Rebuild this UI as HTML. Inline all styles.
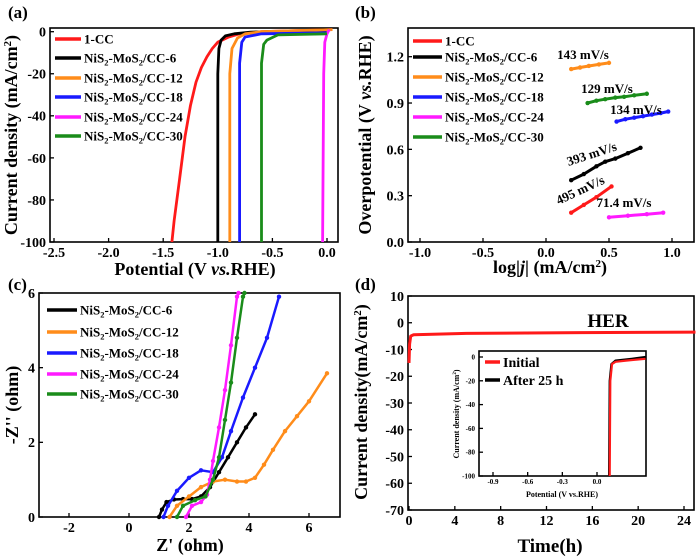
<!DOCTYPE html>
<html><head><meta charset="utf-8"><style>
html,body{margin:0;padding:0;background:#fff;}
svg{display:block;font-family:"Liberation Serif",serif;font-weight:bold;}
</style></head><body>
<svg id="fig" width="700" height="559" viewBox="0 0 700 559" xmlns="http://www.w3.org/2000/svg"></svg>
<script>
// ---------- Panel (a) data: LSV ----------
const aSeriesNames = ["1-CC","NiS2-MoS2/CC-6","NiS2-MoS2/CC-12","NiS2-MoS2/CC-18","NiS2-MoS2/CC-24","NiS2-MoS2/CC-30"];
const aColors = ["#ff1a1a","#000000","#ff8c1a","#1a1aff","#ff1aff","#1a8c1a"];
const aCC = [[0.05,1],[-0.6,0],[-0.8,-1],[-0.9,-2.5],[-1.0,-5],[-1.05,-8],[-1.1,-12],[-1.15,-17],[-1.2,-24],[-1.25,-35],[-1.3,-50],[-1.35,-70],[-1.4,-90],[-1.42,-100]];
const aCC6 = [[0,0.5],[-0.7,-0.2],[-0.85,-1],[-0.93,-2],[-0.97,-4],[-0.99,-8],[-1.0,-20],[-1.0,-100]];
const aCC12 = [[0.05,1],[-0.6,0],[-0.75,-1],[-0.82,-3],[-0.87,-8],[-0.89,-20],[-0.89,-100]];
const aCC18 = [[0,-0.5],[-0.6,-1],[-0.75,-2.5],[-0.78,-5],[-0.8,-15],[-0.8,-100]];
const aCC24 = [[0.02,1],[0,-1],[-0.02,-5],[-0.03,-20],[-0.04,-100]];
const aCC30 = [[0,-1],[-0.45,-1.5],[-0.55,-4],[-0.58,-6],[-0.6,-15],[-0.6,-100]];
const aXTicks = [-2.5,-2.0,-1.5,-1.0,-0.5,0.0];
const aYTicks = [0,-20,-40,-60,-80,-100];

// ---------- Panel (b) data: Tafel ----------
const bOrange = [[0.2,1.12],[0.27,1.13],[0.34,1.14],[0.42,1.15],[0.5,1.16]];
const bGreen = [[0.33,0.90],[0.4,0.915],[0.47,0.925],[0.55,0.935],[0.62,0.94],[0.7,0.95],[0.8,0.96]];
const bBlue = [[0.56,0.78],[0.63,0.795],[0.7,0.805],[0.77,0.815],[0.84,0.825],[0.91,0.835],[0.97,0.845]];
const bBlack = [[0.2,0.40],[0.3,0.44],[0.4,0.49],[0.47,0.52],[0.55,0.54],[0.65,0.575],[0.75,0.61]];
const bRed = [[0.2,0.19],[0.3,0.24],[0.4,0.29],[0.52,0.36]];
const bMagenta = [[0.5,0.16],[0.65,0.17],[0.8,0.18],[0.93,0.19]];
const bSlopes = ["143 mV/s","129 mV/s","134 mV/s","393 mV/s","495 mV/s","71.4 mV/s"];
const bXTicks = [-1.0,-0.5,0.0,0.5,1.0];
const bYTicks = [0.0,0.3,0.6,0.9,1.2];

// ---------- Panel (c) data: Nyquist ----------
const c6 = [[1.0,0],[1.1,0.2],[1.25,0.4],[1.5,0.47],[1.8,0.48],[2.1,0.48],[2.4,0.55],[2.7,0.8],[3.0,1.2],[3.3,1.6],[3.6,2.0],[3.9,2.4],[4.2,2.75]];
const c12 = [[1.35,0],[1.6,0.3],[2.0,0.55],[2.4,0.8],[2.8,0.95],[3.2,1.0],[3.6,0.95],[3.9,0.95],[4.2,1.05],[4.5,1.4],[4.8,1.8],[5.2,2.3],[5.6,2.7],[6.0,3.1],[6.6,3.85]];
const c18 = [[1.15,0],[1.3,0.3],[1.6,0.7],[2.0,1.05],[2.4,1.25],[2.8,1.2],[3.1,1.6],[3.4,2.3],[3.8,3.2],[4.2,4.0],[4.6,4.8],[5.0,5.9]];
const c24 = [[1.9,0],[2.1,0.3],[2.4,0.4],[2.6,0.6],[2.7,1.0],[2.8,1.5],[3.0,2.4],[3.2,3.4],[3.4,4.6],[3.6,5.9],[3.65,6]];
const c30 = [[1.6,0],[1.8,0.3],[2.2,0.45],[2.55,0.55],[2.8,1.0],[3.0,1.6],[3.2,2.6],[3.4,3.6],[3.6,4.8],[3.8,5.9],[3.85,6]];
const cXTicks = [-2,0,2,4,6];
const cYTicks = [0,2,4,6];

// ---------- Panel (d) data: stability ----------
const dLine = [[0,-15],[0.05,-8],[0.15,-5],[0.4,-4.5],[5,-4],[15,-3.7],[25,-3.5]];
const dXTicks = [0,4,8,12,16,20,24];
const dYTicks = [10,0,-10,-20,-30,-40,-50,-60,-70];
const insRed = [[0.11,-100],[0.115,-20],[0.13,-6],[0.16,-4],[0.25,-3],[0.42,-1.5]];
const insBlack = [[0.105,-100],[0.11,-20],[0.125,-6],[0.16,-3],[0.3,-1.5],[0.42,0]];
const insXTicks = [-0.9,-0.6,-0.3,0.0];
const insYTicks = [0,-20,-40,-60,-80,-100];

const NS="http://www.w3.org/2000/svg";
const svg=document.getElementById('fig');
function mk(tag,attrs,parent){const e=document.createElementNS(NS,tag);for(const k in attrs)e.setAttribute(k,attrs[k]);(parent||svg).appendChild(e);return e;}
function lin(d0,d1,r0,r1){return v=>r0+(v-d0)*(r1-r0)/(d1-d0);}
function txt(s,x,y,size,anchor,parent,name){const t=mk('text',{x:x,y:y,'font-size':size,'text-anchor':anchor||'middle'},parent);t.textContent=s;

return t;}
function axes(box,xs,ys,xt,yt,xfmt,yfmt,fs,name){
  const g=mk('g',{});
  
  
  const r=mk('rect',{x:box.l,y:box.t,width:box.r-box.l,height:box.b-box.t,fill:'none',stroke:'#000','stroke-width':1.6},g);
  
  
  xt.forEach(v=>{const x=xs(v);mk('line',{x1:x,x2:x,y1:box.b,y2:box.b-4,stroke:'#000','stroke-width':1.3},g);txt(xfmt(v),x,box.b+fs+1,fs,'middle',g,'x-tick-label');});
  yt.forEach(v=>{const y=ys(v);mk('line',{x1:box.l,x2:box.l+4,y1:y,y2:y,stroke:'#000','stroke-width':1.3},g);txt(yfmt(v),box.l-4,y+fs*0.35,fs,'end',g,'y-tick-label');});
  return g;
}
function path(pts,xs,ys,color,w,name,clip){const d=pts.map((p,i)=>(i?'L':'M')+xs(p[0]).toFixed(1)+','+ys(p[1]).toFixed(1)).join('');
  const e=mk('path',{d:d,fill:'none',stroke:color,'stroke-width':w,'stroke-linejoin':'round'});
  if(clip)e.setAttribute('clip-path',clip);
  
  return e;}
function markers(pts,xs,ys,color,r,name){pts.forEach(p=>{const c=mk('circle',{cx:xs(p[0]),cy:ys(p[1]),r:r,fill:color});
  
  });}
function legendEntry(x,y,len,color,label,fs){
  const g=mk('g',{});
  
  
  mk('line',{x1:x,x2:x+len,y1:y,y2:y,stroke:color,'stroke-width':3.5},g);
  const t=mk('text',{x:x+len+3,y:y+fs*0.35,'font-size':fs},g);
  const m=label.match(/^NiS2-MoS2(.*)$/);
  if(m){t.innerHTML='NiS<tspan font-size="'+(fs*0.65)+'" dy="3">2</tspan><tspan dy="-3">-MoS</tspan><tspan font-size="'+(fs*0.65)+'" dy="3">2</tspan><tspan dy="-3">'+m[1]+'</tspan>';}
  else t.textContent=label;
  
  
}
function rotText(html,x,y,size,name){const t=mk('text',{x:0,y:0,'font-size':size,'text-anchor':'middle',transform:'translate('+x+','+y+') rotate(-90)'});t.innerHTML=html;
  
  return t;}
function htmlText(html,x,y,size,name,anchor){const t=mk('text',{x:x,y:y,'font-size':size,'text-anchor':anchor||'middle'});t.innerHTML=html;
  
  return t;}
const f1=v=>v.toFixed(1), f0=v=>String(v);

// ---------- Panel (a) ----------
{
 const box={l:50,r:338,t:28,b:242};
 const xs=lin(-2.5,0,54,327), ys=lin(0,-100,31.7,242);
 mk('clipPath',{id:'ca'});
 const cr=document.createElementNS(NS,'rect');document.getElementById('ca').appendChild(cr);
 cr.setAttribute('x',box.l);cr.setAttribute('y',box.t);cr.setAttribute('width',box.r-box.l);cr.setAttribute('height',box.b-box.t);
 axes(box,xs,ys,aXTicks,aYTicks,f1,f0,14,'panel-a-axes');
 [aCC,aCC6,aCC12,aCC18,aCC24,aCC30].forEach((s,i)=>path(s,xs,ys,aColors[i],2.8,'lsv-curve-'+i,'url(#ca)'));
 const ly=[39,58,78,97,117,136];
 aSeriesNames.forEach((n,i)=>legendEntry(55,ly[i],26,aColors[i],n,13));
 htmlText('(a)',8,18,17,'panel-a-label','start');
 htmlText('Potential (V <tspan font-style="italic">vs.</tspan>RHE)',195,275,18,'x-axis-title');
 rotText('Current density (mA/cm<tspan font-size="11" dy="-6">2</tspan><tspan dy="6">)</tspan>',17,135,18,'y-axis-title');
}
// ---------- Panel (b) ----------
{
 const box={l:408,r:694,t:28,b:242};
 const xs=lin(-1,1,420,672), ys=lin(0,1.2,242,56.7);
 axes(box,xs,ys,bXTicks,bYTicks,f1,f1,14,'panel-b-axes');
 const series=[bRed,bBlack,bOrange,bBlue,bMagenta,bGreen];
 series.forEach((s,i)=>{path(s,xs,ys,aColors[i],3,'tafel-line-'+i);markers(s,xs,ys,aColors[i],2.2,'tafel-point');});
 const ly=[41,57,77,97,117,137];
 aSeriesNames.forEach((n,i)=>legendEntry(413,ly[i],29,aColors[i],n,13));
 txt(bSlopes[0],583,59,13,'middle',null,'slope-label');
 txt(bSlopes[1],607,93,13,'middle',null,'slope-label');
 txt(bSlopes[2],636,114,13,'middle',null,'slope-label');
 const t1=txt(bSlopes[3],0,0,13,'middle',null,'slope-label');t1.setAttribute('transform','translate(593,158) rotate(-18)');
 const t2=txt(bSlopes[4],0,0,13,'middle',null,'slope-label');t2.setAttribute('transform','translate(582,194) rotate(-25)');
 txt(bSlopes[5],624,207,13,'middle',null,'slope-label');
 htmlText('(b)',355,18,17,'panel-b-label','start');
 htmlText('log|<tspan font-style="italic">j</tspan>| (mA/cm<tspan font-size="11" dy="-6">2</tspan><tspan dy="6">)</tspan>',550,273,18,'x-axis-title');
 rotText('Overpotential (V <tspan font-style="italic">vs.</tspan>RHE)',371,135,18,'y-axis-title');
}
// ---------- Panel (c) ----------
{
 const box={l:39,r:340,t:293,b:517};
 const xs=lin(-2,6,69,309), ys=lin(0,6,517,293);
 mk('clipPath',{id:'cc'});
 const cr=document.createElementNS(NS,'rect');document.getElementById('cc').appendChild(cr);
 cr.setAttribute('x',box.l);cr.setAttribute('y',box.t);cr.setAttribute('width',box.r-box.l);cr.setAttribute('height',box.b-box.t);
 axes(box,xs,ys,cXTicks,cYTicks,f0,f0,14,'panel-c-axes');
 const series=[c6,c12,c18,c24,c30], cols=aColors.slice(1);
 series.forEach((s,i)=>{path(s,xs,ys,cols[i],2.5,'nyquist-curve-'+i,'url(#cc)');markers(s,xs,ys,cols[i],2.2,'nyquist-point');});
 const ly=[310,332,353,374,394];
 aSeriesNames.slice(1).forEach((n,i)=>legendEntry(47,ly[i],30,cols[i],n,13));
 htmlText('(c)',8,290,17,'panel-c-label','start');
 htmlText("Z' (ohm)",190,551,18,'x-axis-title');
 rotText("-Z'' (ohm)",18,405,18,'y-axis-title');
}
// ---------- Panel (d) ----------
{
 const box={l:408,r:694,t:296,b:510};
 const xs=lin(0,24,409,684), ys=lin(10,-70,296,510);
 axes(box,xs,ys,dXTicks,dYTicks,f0,f0,14,'panel-d-axes');
 path(dLine,xs,ys,'#ff1a1a',3,'stability-curve');
 txt('HER',608,327,19,'middle',null,'her-label');
 htmlText('(d)',355,290,17,'panel-d-label','start');
 htmlText('Time(h)',550,552,19,'x-axis-title');
 rotText('Current density(mA/cm<tspan font-size="11" dy="-6">2</tspan><tspan dy="6">)</tspan>',367,402,18,'y-axis-title');
 const ib={l:479,r:646,t:351,b:476};
 const ixs=lin(-0.9,0,493,597), iys=lin(0,-100,357,476);
 axes(ib,ixs,iys,insXTicks,insYTicks,f1,f0,7,'inset-axes');
 path(insBlack,ixs,iys,'#000',2.2,'inset-after-curve');
 path(insRed,ixs,iys,'#ff1a1a',2.2,'inset-initial-curve');
 legendEntry(485,362,15,'#ff1a1a','Initial',14);
 legendEntry(485,380,15,'#000','After 25 h',14);
 htmlText('Potential (V vs.RHE)',562,497,8,'inset-x-title');
 rotText('Current density (mA/cm<tspan font-size="5" dy="-3">2</tspan><tspan dy="3">)</tspan>',459,414,8,'inset-y-title');
}
</script>
</body></html>
